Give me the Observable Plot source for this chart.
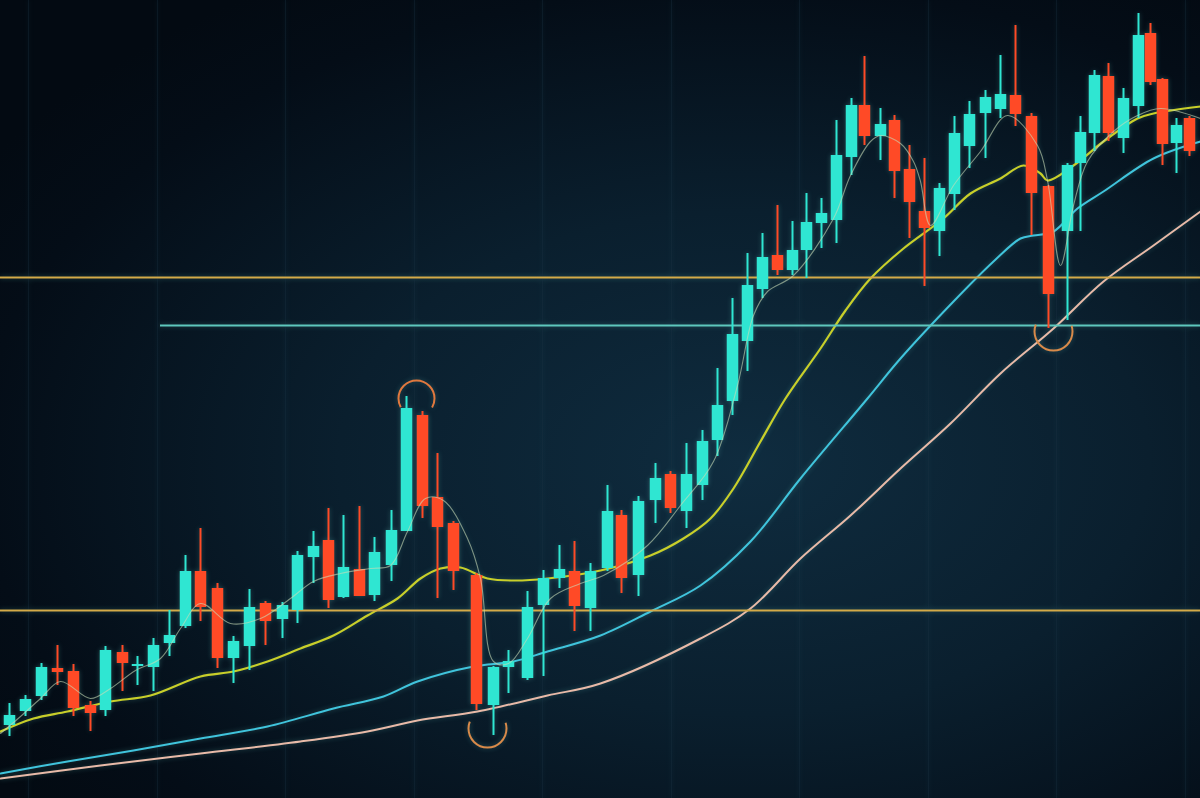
<!DOCTYPE html>
<html>
<head>
<meta charset="utf-8">
<script src="https://cdn.jsdelivr.net/npm/d3@7"></script>
<script src="https://cdn.jsdelivr.net/npm/@observablehq/plot@0.6"></script>
<style>
  html, body { margin: 0; padding: 0; width: 1200px; height: 798px; overflow: hidden; }
  body { background: radial-gradient(ellipse 75% 70% at 62% 58%, #0f2c3f 0%, #0a1f2e 45%, #040d17 85%, #030a12 100%); font-family: "Inter", sans-serif; }
  #chart svg { display: block; filter: drop-shadow(0 0 2.5px rgba(120, 230, 220, 0.28)); }
</style>
</head>
<body>
<div id="chart"></div>
<script>
// Candle positions (time axis) and OHLC prices
const t     = [9,25,41,57,73,90,105,122,137,153,169,185,200,217,233,249,265,282,297,313,328,343,359,374,391,406,422,437,453,476,493,508,527,543,559,574,590,607,621,638,655,670,686,702,717,732,747,762,777,792,806,821,836,851,864,880,894,909,924,939,954,969,985,1000,1015,1031,1048,1067,1080,1094,1108,1123,1138,1150,1162,1176,1189];
const open  = [73,87,102,130,127,93,88,146,132,131,155,172,227,210,140,152,195,179,188,241,258,201,229,203,233,267,383,301,275,223,93,131,120,193,220,227,190,230,283,223,298,324,287,313,358,397,457,509,543,528,548,575,578,641,693,662,678,629,587,567,604,652,685,689,703,682,612,567,635,665,722,660,692,765,719,655,680];
const close = [83,99,131,126,90,85,148,135,134,153,163,227,191,140,157,191,177,193,243,252,198,231,202,246,268,390,292,271,227,94,131,137,191,220,229,192,227,287,220,297,320,290,324,357,393,464,513,541,528,548,576,585,643,693,662,674,627,596,570,610,665,684,701,704,684,605,504,633,666,723,665,700,763,716,654,673,647];
const high  = [95,103,135,153,134,97,152,153,142,160,188,243,270,215,162,209,197,196,247,267,290,283,292,261,288,402,387,345,277,225,132,148,207,228,253,257,235,313,288,302,335,327,355,368,430,500,545,565,593,577,605,600,678,700,742,690,683,653,640,615,682,697,708,743,773,685,613,635,682,728,735,710,785,775,720,680,682];
const low   = [62,82,98,113,82,67,82,107,113,107,142,170,177,130,115,128,153,160,175,215,190,200,202,197,217,267,280,200,208,88,63,105,118,122,210,167,167,227,205,202,275,285,270,298,342,383,427,500,523,523,520,550,555,623,653,638,600,560,512,542,588,630,640,680,672,563,470,478,567,647,657,645,680,713,633,625,642];

// Moving averages: [time, value]
const maFast = [[0,65],[20,82],[40,100],[60,117],[90,100],[110,110],[135,128],[160,140],[180,170],[200,195],[230,175],[260,180],[290,200],[313,217],[340,225],[370,230],[390,233],[407,267],[425,300],[443,298],[467,260],[480,220],[493,137],[508,135],[527,160],[550,200],[580,215],[603,223],[647,253],[680,293],[713,337],[737,413],[753,483],[767,507],[793,523],[833,580],[850,623],[870,657],[880,663],[900,655],[913,637],[920,617],[930,573],[953,613],[980,647],[1007,683],[1037,653],[1047,618],[1060,533],[1073,593],[1087,637],[1113,667],[1137,683],[1160,690],[1200,680]];
const maYellow = [[0,67],[33,80],[67,87],[110,97],[150,103],[200,122],[233,127],[267,137],[300,150],[333,163],[367,183],[397,200],[420,220],[440,230],[460,231],[487,220],[513,218],[547,220],[600,228],[650,243],[683,260],[710,280],[733,310],[760,357],[785,400],[820,450],[845,488],[870,520],[903,550],[943,580],[970,605],[1000,620],[1023,633],[1040,625],[1047,618],[1073,633],[1103,657],[1137,680],[1153,685],[1200,692]];
const maCyan = [[0,25],[67,37],[133,48],[200,60],[267,72],[333,90],[383,102],[417,117],[473,132],[513,137],[547,147],[600,163],[650,187],[700,213],[750,257],[800,320],[867,400],[900,440],[953,497],[993,537],[1020,560],[1033,563],[1053,567],[1077,590],[1103,607],[1153,640],[1200,657]];
const maPink = [[0,20],[100,33],[200,45],[300,57],[367,67],[417,78],[477,87],[547,103],[600,115],[700,160],[750,190],[800,240],[850,283],[900,330],[950,375],[1000,425],[1053,470],[1103,517],[1153,553],[1200,587]];

// Horizontal levels
const levelsGold = [521, 188];
const levelCyan = {start: 160, value: 473};
// Marked turning points [time, price]
const marks = [[416, 400, "top"], [487, 70, "bottom"], [1053, 467, "bottom"]];
// Faint vertical grid positions
const gridX = [28,157,285,414,542,671,799,928,1056,1185];

const candles = t.map((x, i) => ({t: x, open: open[i], close: close[i], high: high[i], low: low[i], up: close[i] >= open[i]}));
const UP = "#2fe6d2", DOWN = "#ff4a26";
const col = d => d.up ? UP : DOWN;
const toObj = a => a.map(([x, y]) => ({x, y}));

function arcDash(r, segs) { // segs in degrees -> px
  const C = 2 * Math.PI * r;
  return segs.map(s => (s / 360 * C).toFixed(2)).join(" ");
}
const arcTop = marks.filter(m => m[2] === "top").map(([x, y]) => ({x, y}));
const arcBot = marks.filter(m => m[2] === "bottom").map(([x, y]) => ({x, y}));

const chart = Plot.plot({
  width: 1200,
  height: 798,
  margin: 0,
  x: {domain: [0, 1200], axis: null},
  y: {domain: [0, 798], axis: null},
  style: {background: "transparent", overflow: "visible"},
  marks: [
    Plot.ruleX(gridX, {stroke: "#1a3242", strokeWidth: 1.2, strokeOpacity: 0.35}),
    Plot.line(toObj(maPink), {x: "x", y: "y", stroke: "#e8baa8", strokeWidth: 2, curve: "catmull-rom"}),
    Plot.line(toObj(maCyan), {x: "x", y: "y", stroke: "#40c4dc", strokeWidth: 2, curve: "catmull-rom"}),
    Plot.line(toObj(maYellow), {x: "x", y: "y", stroke: "#c8cf2a", strokeWidth: 2.2, curve: "catmull-rom"}),
    Plot.ruleY(levelsGold, {stroke: "#d4aa48", strokeWidth: 2.2}),
    Plot.ruleY([levelCyan.value], {x1: levelCyan.start, x2: 1200, stroke: "#5ec8bd", strokeWidth: 2.2}),
    Plot.ruleX(candles, {x: "t", y1: "low", y2: "high", stroke: col, strokeWidth: 2}),
    Plot.ruleX(candles, {x: "t", y1: "open", y2: "close", stroke: col, strokeWidth: 11.5}),
    Plot.line(toObj(maFast), {x: "x", y: "y", stroke: "#c9dcb8", strokeWidth: 1.1, strokeOpacity: 0.6, curve: "catmull-rom"}),
    Plot.dot(arcTop, {x: "x", y: "y", r: 18, stroke: "#e0783e", strokeWidth: 2, fill: "none", strokeDasharray: arcDash(18, [30, 120, 210])}),
    Plot.dot(arcBot, {x: "x", y: "y", r: 19, stroke: "#d88a4a", strokeWidth: 2, fill: "none", strokeDasharray: arcDash(19, [200, 140, 20])})
  ]
});
document.getElementById("chart").appendChild(chart);
</script>
</body>
</html>
